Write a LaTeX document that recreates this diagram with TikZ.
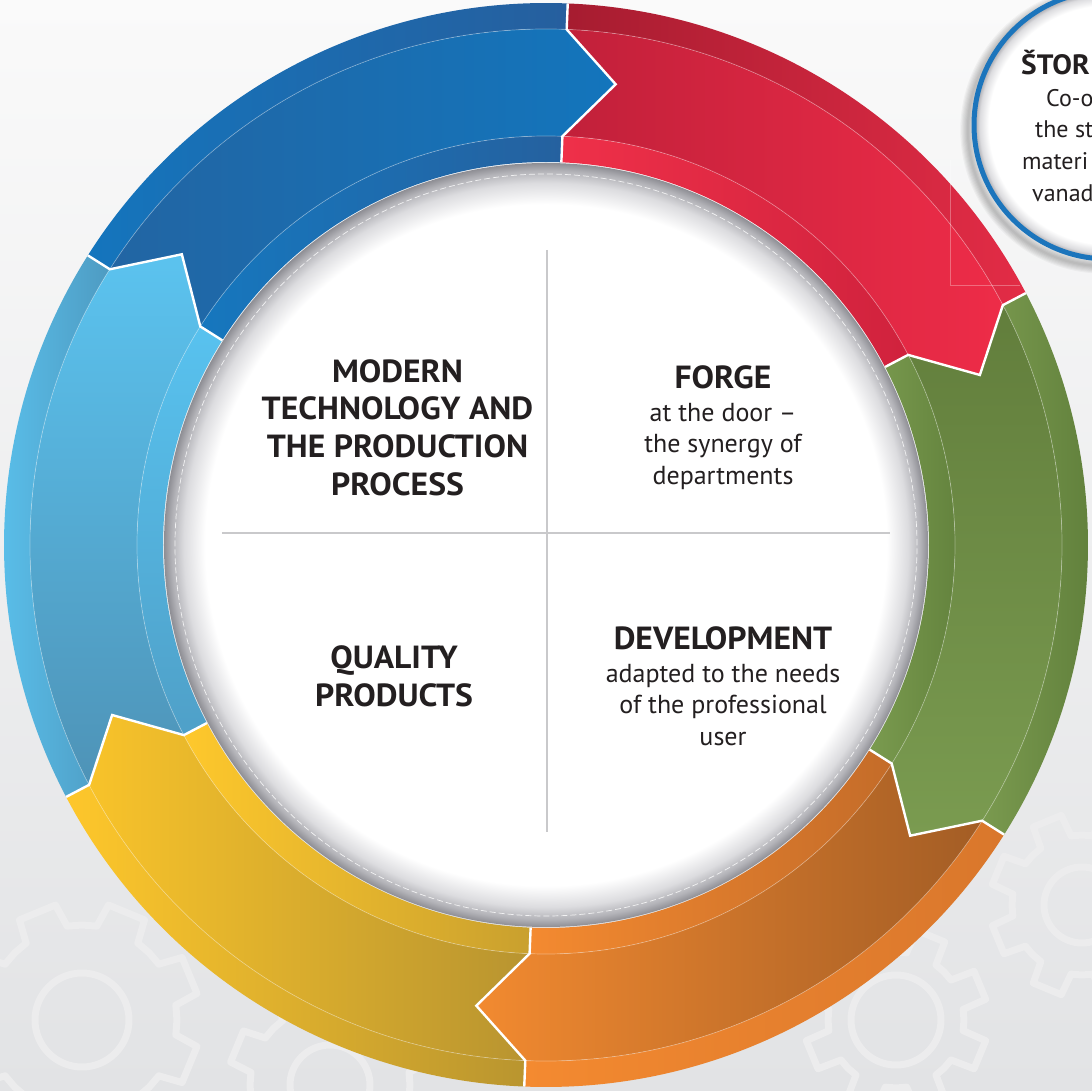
\documentclass[tikz,border=0pt]{standalone}
\usepackage{fontspec}
\setmainfont{PT Sans}
\newfontfamily\hdfont[FakeStretch=1.05]{PT Sans Bold}
\usetikzlibrary{calc}
\definecolor{txt}{HTML}{231F20}
\definecolor{bgTop}{HTML}{FAFAFA}
\definecolor{bgBot}{HTML}{E2E3E5}
\definecolor{gearc}{HTML}{ECECED}
\definecolor{rimA}{HTML}{DCDCDF}
\definecolor{rimB}{HTML}{B3B3B8}
\definecolor{rimC}{HTML}{8E8E94}
\definecolor{divc}{HTML}{C9C9CB}
\definecolor{ringblue}{HTML}{1C75BC}
% red
\definecolor{rOA}{HTML}{E32C46}\definecolor{rOB}{HTML}{A61C30}
\definecolor{rMA}{HTML}{EE2C48}\definecolor{rMB}{HTML}{C1203A}
\definecolor{rIA}{HTML}{D0223D}\definecolor{rIB}{HTML}{EF3049}
% green
\definecolor{gOA}{HTML}{5C7B38}\definecolor{gOB}{HTML}{7A9A4F}
\definecolor{gMA}{HTML}{627E3C}\definecolor{gMB}{HTML}{7A9B50}
\definecolor{gIA}{HTML}{5F7E3A}\definecolor{gIB}{HTML}{7A9B4F}
% orange
\definecolor{oOA}{HTML}{D9772C}\definecolor{oOB}{HTML}{F48A30}
\definecolor{oMA}{HTML}{A35D25}\definecolor{oMB}{HTML}{F28A30}
\definecolor{oIA}{HTML}{C46C29}\definecolor{oIB}{HTML}{F48A30}
% yellow
\definecolor{yOA}{HTML}{B9952F}\definecolor{yOB}{HTML}{FEC72B}
\definecolor{yMA}{HTML}{B89430}\definecolor{yMB}{HTML}{F8C32A}
\definecolor{yIA}{HTML}{C9A02E}\definecolor{yIB}{HTML}{FEC82C}
% light blue
\definecolor{lOA}{HTML}{5CC6F2}\definecolor{lOB}{HTML}{4E9BC2}
\definecolor{lMA}{HTML}{5BC3EF}\definecolor{lMB}{HTML}{4E93B7}
\definecolor{lIA}{HTML}{58C2EF}\definecolor{lIB}{HTML}{4FA0C8}
% blue
\definecolor{bOA}{HTML}{265F9E}\definecolor{bOB}{HTML}{1475BD}
\definecolor{bMA}{HTML}{1375BC}\definecolor{bMB}{HTML}{2265A3}
\definecolor{bIA}{HTML}{25619F}\definecolor{bIB}{HTML}{1677BE}

\pgfdeclareradialshading{discshade}{\pgfpoint{0bp}{0bp}}{color(0bp)=(white); color(22.3bp)=(white); color(23.7bp)=(rimA); color(24.5bp)=(rimB); color(25bp)=(rimC); color(50bp)=(rimC)}
\pgfdeclareradialshading{smallshade}{\pgfpoint{0bp}{0bp}}{color(0bp)=(white); color(22.6bp)=(white); color(24.3bp)=(rimA); color(25bp)=(rimB); color(50bp)=(rimB)}

\newcommand\bggear[5]{%
  \begin{scope}[shift={(#1,#2)}]
    \draw[gearln] (0:#3 pt) \foreach \a in {0,45,...,315}{ -- ({\a+9}:#3 pt) -- ({\a+13}:#4 pt) -- ({\a+32}:#4 pt) -- ({\a+36}:#3 pt) -- ({\a+45}:#3 pt)} -- cycle;
    \draw[gearln] (0,0) circle[radius=#5 pt];
  \end{scope}}

\begin{document}
\begin{tikzpicture}[x=1pt,y=1pt,
  gearln/.style={draw=gearc, line width=7pt, line join=round},
  sep/.style={draw=white, line width=2.4pt, line join=miter, miter limit=10},
  hl/.style={draw=white, opacity=.35, line width=.7pt},
  divider/.style={draw=divc, line width=2pt},
  head/.style={font=\fontsize{32}{37}\hdfont, text=txt, anchor=base, inner sep=0pt},
  body/.style={font=\fontsize{26}{31}\selectfont, text=txt, anchor=base, inner sep=0pt},
  chead/.style={font=\fontsize{28}{34}\hdfont, text=txt, anchor=base west, inner sep=0pt},
  cbody/.style={font=\fontsize{24}{30}\selectfont, text=txt, anchor=base west, inner sep=0pt}]
\useasboundingbox (-546,-546) rectangle (546,545);
\clip (-546,-546) rectangle (546,545);
% background
\fill[top color=bgTop, bottom color=bgBot] (-546,-546) rectangle (546,545);
\bggear{-464}{-475}{95}{118}{47}
\bggear{-216}{-540}{80}{102}{40}
\bggear{350}{-475}{68}{92}{45}
\bggear{536}{-360}{70}{92}{38}
\def\Ro{542}\def\Rl{516}\def\Rh{409}\def\Ri{383}\def\Rm{466}\def\dl{6.3}
% ring segments
\foreach \t/\oA/\oB/\oP/\mA/\mB/\mP/\iA/\iB/\iP in {
  87.7/rOA/rOB/-90/rMA/rMB/-90/rIA/rIB/-90,
  27.7/gOA/gOB/-90/gMA/gMB/0/gIA/gIB/-90,
  -32.3/oOA/oOB/-90/oMA/oMB/-90/oIA/oIB/-90,
  -92.3/yOA/yOB/-90/yMA/yMB/-90/yIA/yIB/-90,
  -152.3/lOA/lOB/90/lMA/lMB/0/lIA/lIB/0,
  -212.3/bOA/bOB/-90/bMA/bMB/-90/bIA/bIB/-90}{
  \pgfmathsetmacro{\h}{\t-60}
  \pgfmathsetmacro{\hp}{\h-\dl}
  \pgfmathsetmacro{\tp}{\t-\dl}
  \path[top color=\oA, bottom color=\oB, shading angle=\oP]
    (\t:\Ro pt) arc[start angle=\t, end angle=\h, radius=\Ro pt] -- (\h:\Rl pt)
    arc[start angle=\h, end angle=\t, radius=\Rl pt] -- cycle;
  \path[top color=\mA, bottom color=\mB, shading angle=\mP]
    (\t:\Rl pt) arc[start angle=\t, end angle=\h, radius=\Rl pt] -- (\hp:\Rm pt) -- (\h:\Rh pt)
    arc[start angle=\h, end angle=\t, radius=\Rh pt] -- (\tp:\Rm pt) -- cycle;
  \path[top color=\iA, bottom color=\iB, shading angle=\iP]
    (\t:\Rh pt) arc[start angle=\t, end angle=\h, radius=\Rh pt] -- (\h:\Ri pt)
    arc[start angle=\h, end angle=\t, radius=\Ri pt] -- cycle;
}
\draw[hl] (0,0) circle[radius=\Rl pt];
\draw[hl] (0,0) circle[radius=\Rh pt];
\foreach \t in {87.7,27.7,-32.3,-92.3,-152.3,-212.3}{
  \pgfmathsetmacro{\tp}{\t-\dl}
  \draw[sep] (\t:\Ro pt) -- (\t:\Rl pt) -- (\tp:\Rm pt) -- (\t:\Rh pt) -- (\t:\Ri pt);
}
% faint artefact lines in the red segment
\draw[white, opacity=.3, line width=.8pt] (404,385) -- (404,260) -- (474,260);
% central disc
\path[shading=discshade] (0,0) circle[radius=382pt];
\draw[white, opacity=.8, line width=.7pt, dash pattern=on 6pt off 3pt] (0,0) circle[radius=371pt];
% dividers
\coordinate (vt) at (1,295); \coordinate (vb) at (1,-287);
\coordinate (hl) at (-324,12); \coordinate (hr) at (344,12);
\draw[divider] (vt) -- (vb);
\draw[divider] (hl) -- (hr);
% quadrant texts
\node[head] (m1) at (-148.5,162) {MODERN};
\node[head] (m2) at (-148.5,125) {TECHNOLOGY AND};
\node[head] (m3) at (-148.5,87) {THE PRODUCTION};
\node[head] (m4) at (-148.5,49) {PROCESS};
\node[head] (f1) at (177,156) {FORGE};
\node[body] (f2) at (177,123) {at the door –};
\node[body] (f3) at (177,92) {the synergy of};
\node[body] (f4) at (177,60) {departments};
\node[head] (q1) at (-152,-124) {QUALITY};
\node[head] (q2) at (-152,-162) {PRODUCTS};
\node[head] (d1) at (177,-105) {DEVELOPMENT};
\node[body] (d2) at (177,-138) {adapted to the needs};
\node[body] (d3) at (177,-169) {of the professional};
\node[body] (d4) at (177,-201) {user};
% top-right circle
\foreach \i in {1,...,7}{
  \draw[black, opacity=.035, line width=\i*2.2pt] (558,415) circle[radius=136pt];
}
\path[shading=smallshade] (562,420) circle[radius=132pt];
\draw[ringblue, line width=5pt] (562,420) circle[radius=134pt];
\node[chead] (s1) at (475,470) {ŠTOR};
\node[cbody] (s2) at (500,438) {Co-o};
\node[cbody] (s3) at (489,407) {the st};
\node[cbody] (s4) at (476,375) {materi};
\node[cbody] (s5) at (486,343) {vanad};
\end{tikzpicture}
\end{document}
